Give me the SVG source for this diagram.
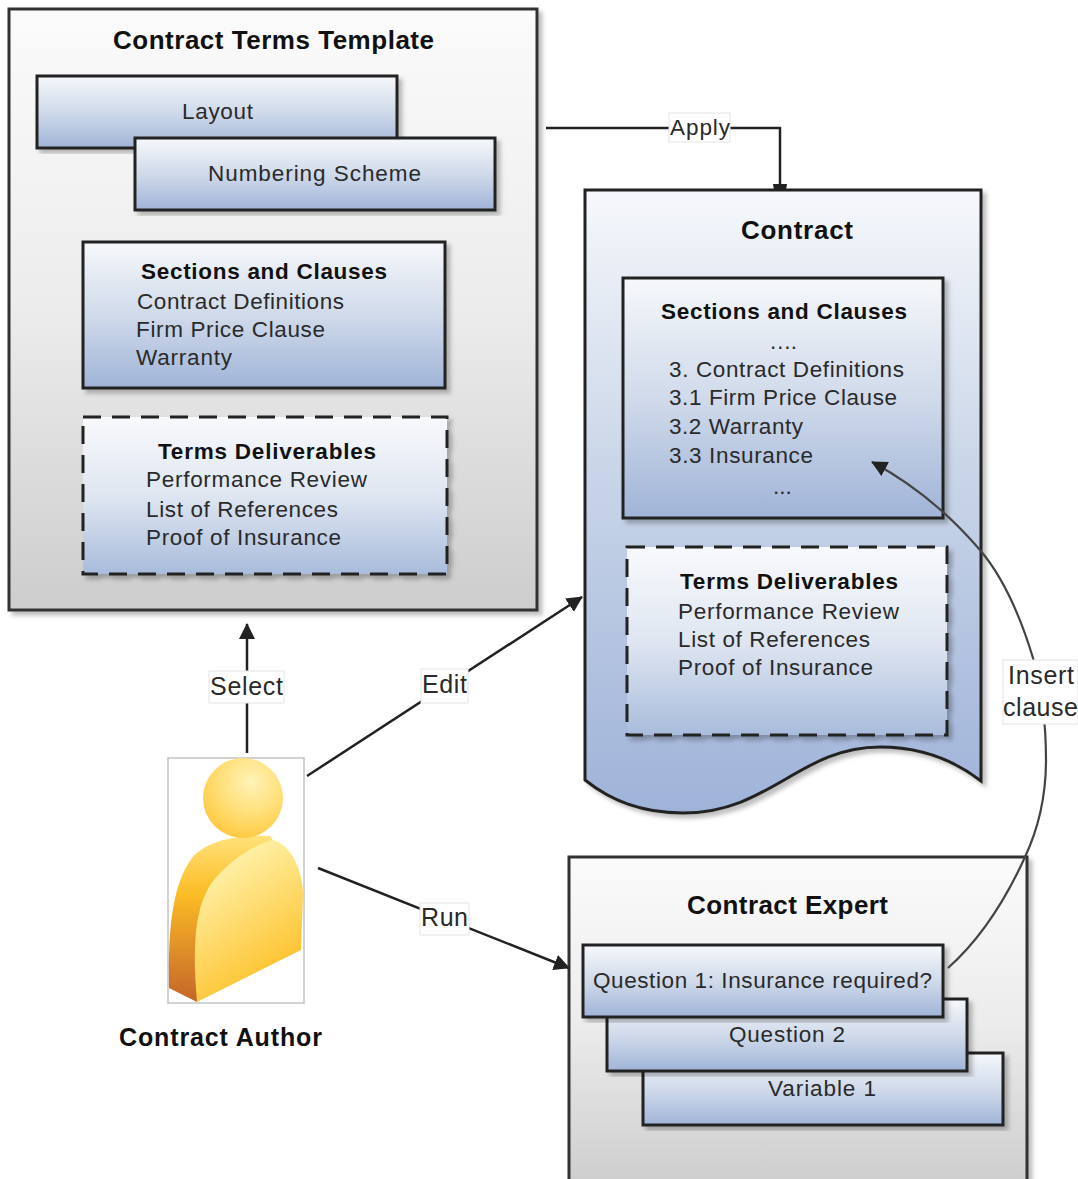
<svg xmlns="http://www.w3.org/2000/svg" width="1078" height="1179" viewBox="0 0 1078 1179">
<style>
text{font-family:"Liberation Sans",Arial,sans-serif;fill:#2a2a2a;font-size:22.5px}
.b{font-weight:bold;fill:#111}
.t{font-size:26px}
.l{font-size:25px}
.box{fill:url(#blue);stroke:#222;stroke-width:3;filter:url(#sh)}
.grey{fill:url(#grey);stroke:#333;stroke-width:3;filter:url(#sh)}
.dash{fill:url(#fade);stroke:#222;stroke-width:3;stroke-dasharray:18 11;filter:url(#sh)}
.c{fill:none;stroke:#222;stroke-width:2.5}
.lb{fill:#fff;stroke:#e4e4e4;stroke-width:1}
</style>
<defs>
<linearGradient id="blue" x1="0" y1="0" x2="0" y2="1"><stop offset="0" stop-color="#f6f8fb"/><stop offset="0.5" stop-color="#d0daea"/><stop offset="1" stop-color="#a0b4d8"/></linearGradient>
<linearGradient id="fade" x1="0" y1="0" x2="0" y2="1"><stop offset="0" stop-color="#f8f9fc"/><stop offset="0.5" stop-color="#dfe6f1"/><stop offset="1" stop-color="#a9bcdc"/></linearGradient>
<linearGradient id="doc" x1="0" y1="0" x2="0" y2="1"><stop offset="0" stop-color="#f6f8fb"/><stop offset="0.45" stop-color="#c9d5e8"/><stop offset="1" stop-color="#9fb3d9"/></linearGradient>
<linearGradient id="grey" x1="0" y1="0" x2="0" y2="1"><stop offset="0" stop-color="#fbfbfb"/><stop offset="0.5" stop-color="#ececec"/><stop offset="1" stop-color="#cdcdcd"/></linearGradient>
<radialGradient id="head" cx="0.6" cy="0.3" r="0.75"><stop offset="0" stop-color="#fff3b8"/><stop offset="0.6" stop-color="#ffdc70"/><stop offset="1" stop-color="#fdc83c"/></radialGradient>
<linearGradient id="front" x1="0.2" y1="0.1" x2="0.6" y2="1"><stop offset="0" stop-color="#fff4b0"/><stop offset="1" stop-color="#fdbd20"/></linearGradient>
<linearGradient id="side" x1="0" y1="0" x2="0" y2="1"><stop offset="0" stop-color="#ffe27a"/><stop offset="0.35" stop-color="#fcbc25"/><stop offset="1" stop-color="#c4652a"/></linearGradient>
<filter id="sh" x="-5%" y="-5%" width="112%" height="112%"><feDropShadow dx="4" dy="4" stdDeviation="2" flood-color="#000" flood-opacity="0.25"/></filter>
<marker id="a" markerWidth="17" markerHeight="16" refX="15" refY="8" orient="auto" markerUnits="userSpaceOnUse"><path d="M0 0L16 8L0 16Z" fill="#222"/></marker>
<marker id="cut" markerWidth="7" markerHeight="14" refX="6" refY="7" orient="auto" markerUnits="userSpaceOnUse"><path d="M0 0L6 1V13L0 14Z" fill="#222"/></marker>
</defs>

<g id="contract-terms-template">
<rect class="grey" x="9" y="9" width="528" height="601"/>
<text class="b t" x="113" y="49" textLength="321">Contract Terms Template</text>
<rect class="box" x="37" y="76" width="360" height="72"/>
<text x="182" y="119" textLength="71">Layout</text>
<rect class="box" x="135" y="138" width="360" height="72"/>
<text x="208" y="181" textLength="213">Numbering Scheme</text>
</g>
<g id="template-sections">
<rect class="box" x="83" y="242" width="362" height="146"/>
<text class="b" x="141" y="279" textLength="246">Sections and Clauses</text>
<text x="137" y="309" textLength="207">Contract Definitions</text>
<text x="136" y="337" textLength="189">Firm Price Clause</text>
<text x="136" y="365" textLength="96">Warranty</text>
</g>
<g id="template-deliverables">
<rect class="dash" x="83" y="417" width="364" height="157"/>
<text class="b" x="158" y="459" textLength="218">Terms Deliverables</text>
<text x="146" y="487" textLength="221">Performance Review</text>
<text x="146" y="517" textLength="192">List of References</text>
<text x="146" y="545" textLength="195">Proof of Insurance</text>
</g>

<g id="contract">
<path d="M585 190H981V781C950 757 915 747 880 747C800 747 770 813 683 813C640 813 610 800 585 780Z" fill="url(#doc)" stroke="#222" stroke-width="3" filter="url(#sh)"/>
<text class="b t" x="741" y="239" textLength="112">Contract</text>
</g>
<g id="contract-sections">
<rect class="box" x="623" y="278" width="320" height="240"/>
<text class="b" x="661" y="319" textLength="246">Sections and Clauses</text>
<text x="769" y="349" textLength="28">….</text>
<text x="669" y="377" textLength="235">3. Contract Definitions</text>
<text x="669" y="405" textLength="228">3.1 Firm Price Clause</text>
<text x="669" y="434" textLength="134">3.2 Warranty</text>
<text x="669" y="463" textLength="144">3.3 Insurance</text>
<text x="773" y="494">...</text>
</g>
<g id="contract-deliverables">
<rect class="dash" x="627" y="547" width="320" height="188"/>
<text class="b" x="680" y="589" textLength="218">Terms Deliverables</text>
<text x="678" y="619" textLength="221">Performance Review</text>
<text x="678" y="647" textLength="192">List of References</text>
<text x="678" y="675" textLength="195">Proof of Insurance</text>
</g>

<g id="contract-expert">
<rect class="grey" x="569" y="857" width="458" height="330"/>
<text class="b t" x="687" y="914" textLength="201">Contract Expert</text>
<rect class="box" x="643" y="1053" width="360" height="72"/>
<text x="768" y="1096" textLength="108">Variable 1</text>
<rect class="box" x="607" y="999" width="360" height="72"/>
<text x="729" y="1042" textLength="116">Question 2</text>
<rect class="box" x="583" y="945" width="360" height="72"/>
<text x="593" y="988" textLength="339">Question 1: Insurance required?</text>
</g>

<g id="contract-author">
<rect x="168" y="758" width="136" height="245" fill="#fff" stroke="#c4c4c4" stroke-width="1.5"/>
<path d="M169 988C168 930 172 885 192 858C205 842 235 834 270 836L280 850L220 900L197 1002Z" fill="url(#side)"/>
<path d="M197 1002C192 945 195 910 210 885C228 860 255 845 272 840C290 843 303 870 303 895L301 950Z" fill="url(#front)"/>
<circle cx="243" cy="798" r="40" fill="url(#head)"/>
<text class="b" x="119" y="1046" textLength="203" style="font-size:25px">Contract Author</text>
</g>

<g id="connectors">
<path class="c" d="M546 128H780V190" marker-end="url(#cut)"/>
<path class="c" d="M247 753V624" marker-end="url(#a)"/>
<path class="c" d="M307 776L582 597" marker-end="url(#a)"/>
<path class="c" d="M318 868L569 968" marker-end="url(#a)"/>
<path d="M948 968C985 935 1010 890 1025 857C1040 825 1046 790 1046 760C1046 725 1042 690 1033 658C1020 615 1003 577 980 550C950 515 915 485 872 462" fill="none" stroke="#444" stroke-width="2.2" marker-end="url(#a)"/>
<rect class="lb" x="669" y="113" width="61" height="29"/><text x="670" y="135" textLength="60">Apply</text>
<rect class="lb" x="209" y="671" width="75" height="32"/><text class="l" x="210" y="695" textLength="73">Select</text>
<rect class="lb" x="421" y="669" width="47" height="34"/><text class="l" x="422" y="693" textLength="45">Edit</text>
<rect class="lb" x="420" y="903" width="49" height="32"/><text class="l" x="421" y="926" textLength="47">Run</text>
<rect class="lb" x="1003" y="660" width="75" height="64"/><text class="l" x="1008" y="684" textLength="66">Insert</text><text class="l" x="1003" y="716" textLength="75">clause</text>
</g>
</svg>
